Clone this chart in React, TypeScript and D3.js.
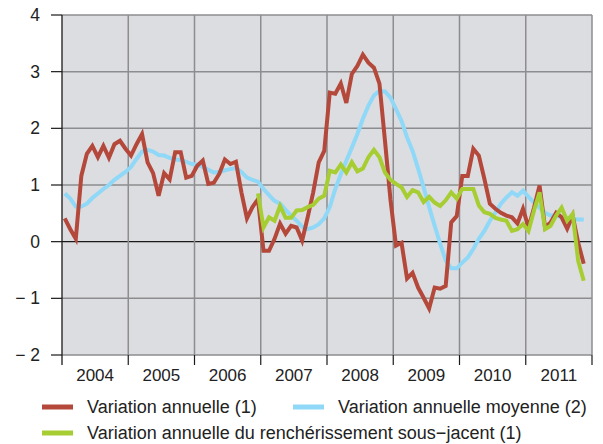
import React, { useEffect, useRef } from "react";
import * as d3 from "d3";

// monthly values, Jan 2004 .. Nov 2011
const years = ["2004", "2005", "2006", "2007", "2008", "2009", "2010", "2011"];
const yTicks = [-2, -1, 0, 1, 2, 3, 4];

const annual = [
  0.41, 0.22, 0.05, 1.16, 1.55, 1.69, 1.49, 1.69, 1.48, 1.72, 1.78, 1.64,
  1.52, 1.72, 1.9, 1.4, 1.21, 0.81, 1.21, 1.1, 1.58, 1.58, 1.13, 1.16,
  1.34, 1.43, 1.02, 1.04, 1.2, 1.45, 1.37, 1.41, 0.87, 0.41, 0.61, 0.75,
  -0.16, -0.16, 0.05, 0.32, 0.14, 0.28, 0.25, 0.02, 0.43, 0.87, 1.4, 1.6,
  2.63, 2.61, 2.79, 2.45, 2.96, 3.1, 3.3, 3.16, 3.07, 2.79, 1.78, 0.74,
  -0.07, -0.02, -0.65, -0.55, -0.81, -0.99, -1.18, -0.81, -0.83, -0.78, 0.34, 0.45,
  1.16, 1.16, 1.64, 1.52, 1.11, 0.67, 0.58, 0.51, 0.46, 0.43, 0.32, 0.58,
  0.25, 0.6, 0.99, 0.25, 0.34, 0.51, 0.43, 0.23, 0.46, -0.02, -0.39,
];

const average = [
  0.85, 0.76, 0.62, 0.62, 0.67, 0.77, 0.85, 0.93, 1.0, 1.09, 1.16, 1.23,
  1.32, 1.46, 1.59, 1.62, 1.59, 1.53, 1.52, 1.48, 1.45, 1.44, 1.41, 1.37,
  1.36, 1.32, 1.27, 1.22, 1.23, 1.26, 1.28, 1.3, 1.23, 1.13, 1.09, 1.06,
  0.93, 0.82, 0.72, 0.67, 0.56, 0.46, 0.37, 0.26, 0.22, 0.25, 0.31, 0.41,
  0.61, 0.93, 1.19, 1.43, 1.66, 1.9, 2.17, 2.4, 2.58, 2.66, 2.65, 2.54,
  2.34, 2.13, 1.84, 1.6, 1.29, 0.96, 0.61, 0.28, -0.04, -0.33, -0.47, -0.47,
  -0.37, -0.28, -0.13, 0.05, 0.19, 0.37, 0.51, 0.67, 0.78, 0.87, 0.81, 0.9,
  0.79, 0.69, 0.6, 0.51, 0.46, 0.46, 0.43, 0.42, 0.4, 0.39, 0.39,
];

// starts Dec 2006 (month index 35)
const coreStart = 35;
const core = [
  0.85,
  0.25, 0.43, 0.37, 0.63, 0.42, 0.42, 0.55, 0.56, 0.61, 0.65, 0.76, 0.81,
  1.25, 1.22, 1.36, 1.22, 1.4, 1.24, 1.29, 1.49, 1.62, 1.49, 1.22, 1.09,
  1.02, 0.96, 0.79, 0.91, 0.87, 0.7, 0.79, 0.69, 0.63, 0.73, 0.87, 0.76,
  0.93, 0.93, 0.93, 0.64, 0.52, 0.49, 0.42, 0.39, 0.37, 0.19, 0.22, 0.31,
  0.19, 0.55, 0.87, 0.22, 0.28, 0.46, 0.6, 0.37, 0.49, -0.34, -0.69,
];

const legendItems = [
  { label: "Variation annuelle (1)", color: "#b4483b", x: 42, y: 407 },
  { label: "Variation annuelle moyenne (2)", color: "#8fd8f7", x: 293, y: 407 },
  { label: "Variation annuelle du renchérissement sous\u2212jacent (1)", color: "#a6cd32", x: 42, y: 433 },
];

const App = () => {
  const ref = useRef<SVGSVGElement | null>(null);

  useEffect(() => {
    const svg = d3.select(ref.current);
    svg.selectAll("*").remove();

    const left = 62, right = 592, top = 15, bottom = 355;
    const x = d3.scaleLinear().domain([0, 96]).range([left, right]);
    const y = d3.scaleLinear().domain([-2, 4]).range([bottom, top]);
    const font = "'Liberation Sans', Arial, sans-serif";

    svg.append("rect")
      .attr("x", left).attr("y", top)
      .attr("width", right - left).attr("height", bottom - top)
      .attr("fill", "#dcdde0");

    // grid
    svg.append("g").selectAll("line").data(yTicks).join("line")
      .attr("x1", left).attr("x2", right)
      .attr("y1", (d) => y(d)).attr("y2", (d) => y(d))
      .attr("stroke", (d) => (d === 0 ? "#1a1a1a" : "#8d8d8f"))
      .attr("stroke-width", (d) => (d === 0 ? 1.2 : 1.5));

    svg.append("g").selectAll("line").data(d3.range(1, 9)).join("line")
      .attr("x1", (d) => x(d * 12)).attr("x2", (d) => x(d * 12))
      .attr("y1", top).attr("y2", bottom)
      .attr("stroke", "#8d8d8f").attr("stroke-width", 1.5);

    // axes
    svg.append("line")
      .attr("x1", left).attr("x2", left).attr("y1", top).attr("y2", bottom + 10)
      .attr("stroke", "#1a1a1a").attr("stroke-width", 1.3);

    svg.append("g").selectAll("line").data(yTicks).join("line")
      .attr("x1", left - 11).attr("x2", left)
      .attr("y1", (d) => y(d)).attr("y2", (d) => y(d))
      .attr("stroke", "#1a1a1a").attr("stroke-width", 1.2);

    svg.append("g").selectAll("line").data(d3.range(1, 9)).join("line")
      .attr("x1", (d) => x(d * 12)).attr("x2", (d) => x(d * 12))
      .attr("y1", bottom).attr("y2", bottom + 10)
      .attr("stroke", "#1a1a1a").attr("stroke-width", 1.2);

    svg.append("g").selectAll("text").data(yTicks).join("text")
      .attr("x", 40).attr("y", (d) => y(d) + 6)
      .attr("text-anchor", "end")
      .attr("font-family", font).attr("font-size", 17.5).attr("fill", "#222")
      .text((d) => (d < 0 ? `\u2212 ${-d}` : `${d}`));

    svg.append("g").selectAll("text").data(years).join("text")
      .attr("x", (d, i) => x(i * 12 + 6)).attr("y", 381)
      .attr("text-anchor", "middle")
      .attr("font-family", font).attr("font-size", 17).attr("fill", "#222")
      .text((d) => d);

    // series
    const line = d3.line<number>()
      .x((d, i) => x(i + 0.5))
      .y((d) => y(d));
    const coreLine = d3.line<number>()
      .x((d, i) => x(coreStart + i + 0.5))
      .y((d) => y(d));

    const g = svg.append("g").attr("fill", "none")
      .attr("stroke-width", 4).attr("stroke-linejoin", "miter");
    g.append("path").datum(average).attr("stroke", legendItems[1].color).attr("d", line);
    g.append("path").datum(annual).attr("stroke", legendItems[0].color).attr("d", line);
    g.append("path").datum(core).attr("stroke", legendItems[2].color).attr("d", coreLine);

    // legend
    const lg = svg.append("g").selectAll("g").data(legendItems).join("g")
      .attr("transform", (d) => `translate(${d.x},${d.y})`);
    lg.append("line").attr("x1", 0).attr("x2", 31)
      .attr("stroke", (d) => d.color).attr("stroke-width", 5);
    lg.append("text").attr("x", 45).attr("y", 6)
      .attr("font-family", font).attr("font-size", 18).attr("fill", "#222")
      .text((d) => d.label);
  }, []);

  return (
    <svg ref={ref} width={603} height={444}
      style={{ position: "absolute", left: 0, top: 0, background: "#fff" }} />
  );
};

export default App;
